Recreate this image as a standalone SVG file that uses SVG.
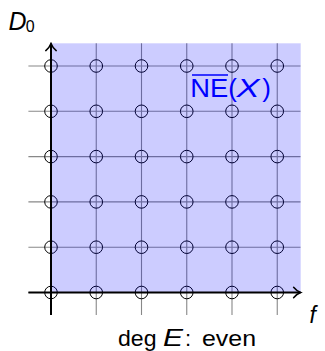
<svg xmlns="http://www.w3.org/2000/svg" width="325" height="351" viewBox="0 0 325 351">
<style>
.grid line{stroke:#888;stroke-width:1.1}
.pt circle{fill:none;stroke:#000;stroke-width:1}
.axis{stroke:#000;stroke-width:2;fill:none}
.lbl{font-family:"Liberation Sans",Arial,sans-serif}
.it{font-style:italic}
.blue{fill:#0000ff}
</style>
<defs>
<marker id="to" markerUnits="userSpaceOnUse" viewBox="-9 -7 11 14" refX="0" refY="0" markerWidth="11" markerHeight="14" orient="auto">
<path d="M-7,-5.2 C-5.2,-3 -2.5,-0.9 0,0 C-2.5,0.9 -5.2,3 -7,5.2" fill="none" stroke="#000" stroke-width="1.5" stroke-linecap="round"/>
</marker>
</defs>
<rect width="325" height="351" fill="#fff"/>
<g id="grid" class="grid">
<line x1="28.4" y1="292.5" x2="300.5" y2="292.5"/>
<line x1="28.4" y1="247.2" x2="300.5" y2="247.2"/>
<line x1="28.4" y1="201.9" x2="300.5" y2="201.9"/>
<line x1="28.4" y1="156.6" x2="300.5" y2="156.6"/>
<line x1="28.4" y1="111.3" x2="300.5" y2="111.3"/>
<line x1="28.4" y1="66" x2="300.5" y2="66"/>
<line x1="51" y1="43.3" x2="51" y2="315.1"/>
<line x1="96.25" y1="43.3" x2="96.25" y2="315.1"/>
<line x1="141.5" y1="43.3" x2="141.5" y2="315.1"/>
<line x1="186.75" y1="43.3" x2="186.75" y2="315.1"/>
<line x1="232" y1="43.3" x2="232" y2="315.1"/>
<line x1="277.25" y1="43.3" x2="277.25" y2="315.1"/>
</g>
<g id="points" class="pt">
<circle cx="51" cy="292.5" r="6.3"/><circle cx="96.25" cy="292.5" r="6.3"/><circle cx="141.5" cy="292.5" r="6.3"/><circle cx="186.75" cy="292.5" r="6.3"/><circle cx="232" cy="292.5" r="6.3"/><circle cx="277.25" cy="292.5" r="6.3"/>
<circle cx="51" cy="247.2" r="6.3"/><circle cx="96.25" cy="247.2" r="6.3"/><circle cx="141.5" cy="247.2" r="6.3"/><circle cx="186.75" cy="247.2" r="6.3"/><circle cx="232" cy="247.2" r="6.3"/><circle cx="277.25" cy="247.2" r="6.3"/>
<circle cx="51" cy="201.9" r="6.3"/><circle cx="96.25" cy="201.9" r="6.3"/><circle cx="141.5" cy="201.9" r="6.3"/><circle cx="186.75" cy="201.9" r="6.3"/><circle cx="232" cy="201.9" r="6.3"/><circle cx="277.25" cy="201.9" r="6.3"/>
<circle cx="51" cy="156.6" r="6.3"/><circle cx="96.25" cy="156.6" r="6.3"/><circle cx="141.5" cy="156.6" r="6.3"/><circle cx="186.75" cy="156.6" r="6.3"/><circle cx="232" cy="156.6" r="6.3"/><circle cx="277.25" cy="156.6" r="6.3"/>
<circle cx="51" cy="111.3" r="6.3"/><circle cx="96.25" cy="111.3" r="6.3"/><circle cx="141.5" cy="111.3" r="6.3"/><circle cx="186.75" cy="111.3" r="6.3"/><circle cx="232" cy="111.3" r="6.3"/><circle cx="277.25" cy="111.3" r="6.3"/>
<circle cx="51" cy="66" r="6.3"/><circle cx="96.25" cy="66" r="6.3"/><circle cx="141.5" cy="66" r="6.3"/><circle cx="186.75" cy="66" r="6.3"/><circle cx="232" cy="66" r="6.3"/><circle cx="277.25" cy="66" r="6.3"/>
</g>
<g id="region">
<rect x="51" y="43.3" width="249.7" height="249.2" fill="#0000ff" fill-opacity="0.2"/>
</g>
<g id="axes">
<path class="axis" d="M28.4,292.5 H300.6" marker-end="url(#to)"/>
<path class="axis" d="M51,315.1 V43.6" marker-end="url(#to)"/>
</g>
<g id="label-D0" class="lbl">
<text x="8.5" y="29.5" font-size="25" class="it" textLength="18" lengthAdjust="spacingAndGlyphs">D</text>
<text x="25.8" y="32" font-size="16">0</text>
</g>
<g id="label-NE" class="lbl blue">
<line x1="192" y1="75" x2="228" y2="75" stroke="#0000ff" stroke-width="1.3"/>
<text x="190.3" y="97.3" font-size="26" textLength="38" lengthAdjust="spacingAndGlyphs">NE</text>
<text x="228.3" y="97.3" font-size="26">(</text>
<text x="236.5" y="97.3" font-size="26" class="it" textLength="23" lengthAdjust="spacingAndGlyphs">X</text>
<text x="262.3" y="97.3" font-size="26">)</text>
</g>
<g id="label-f" class="lbl">
<text x="309.5" y="323.3" font-size="23" class="it">f</text>
</g>
<g id="label-deg" class="lbl">
<text x="118" y="346" font-size="22" textLength="38.5" lengthAdjust="spacingAndGlyphs">deg</text>
<text x="163" y="346" font-size="23" class="it" textLength="20" lengthAdjust="spacingAndGlyphs">E</text>
<text x="185" y="346" font-size="22">:</text>
<text x="202" y="346" font-size="22" textLength="54" lengthAdjust="spacingAndGlyphs">even</text>
</g>
</svg>
